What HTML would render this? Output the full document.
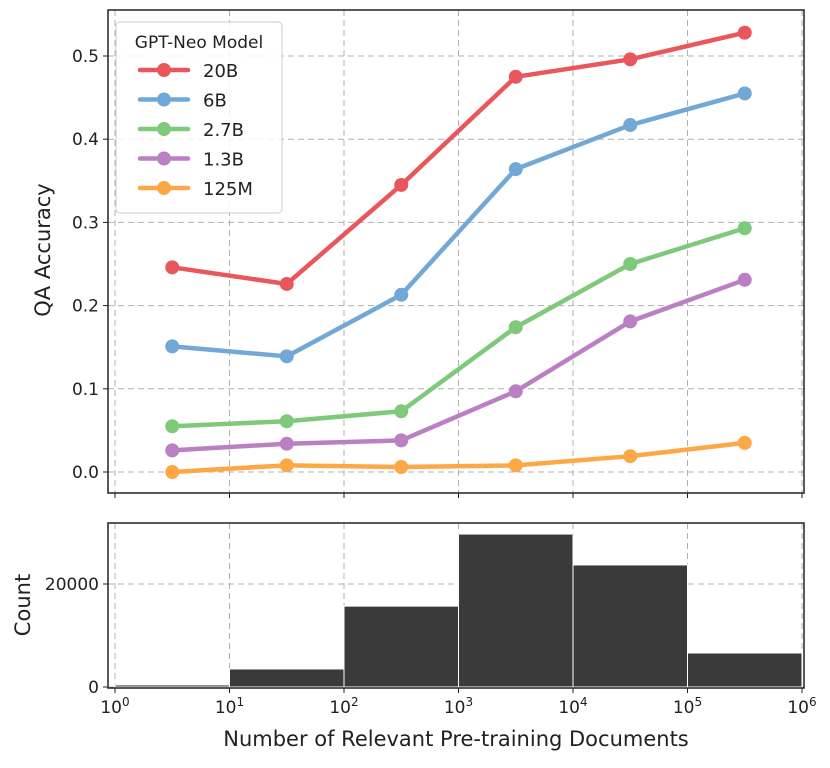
<!DOCTYPE html>
<html><head><meta charset="utf-8"><style>
body{margin:0;background:#fff;width:830px;height:763px;overflow:hidden}
svg text{font-family:"DejaVu Sans","Liberation Sans",sans-serif;fill:#222}
</style></head><body>
<svg id="c" width="830" height="763"></svg>
<script>
const xCenters=[0.5,1.5,2.5,3.5,4.5,5.5];
const seriesNames=["20B","6B","2.7B","1.3B","125M"];
const seriesColors=["#e8575b","#72a8d6","#7fc97a","#bb7fc4","#fda746"];
const acc20B=[0.246,0.226,0.345,0.475,0.496,0.528];
const acc6B=[0.151,0.139,0.213,0.364,0.417,0.455];
const acc27B=[0.055,0.061,0.073,0.174,0.250,0.293];
const acc13B=[0.026,0.034,0.038,0.097,0.181,0.231];
const acc125M=[0.000,0.008,0.006,0.008,0.019,0.035];
const binEdges=[0,1,2,3,4,5,6];
const binCounts=[400,3500,15700,29700,23700,6600];
const yTicks=[0.0,0.1,0.2,0.3,0.4,0.5];
const countTicks=[0,20000];
const xTicks=[0,1,2,3,4,5,6];

const NS="http://www.w3.org/2000/svg";
const svg=document.getElementById('c');
function el(t,a,p){const e=document.createElementNS(NS,t);for(const k in a)e.setAttribute(k,a[k]);(p||svg).appendChild(e);return e;}
const X=v=>115+v*114.5;
const Y=v=>472-v*832;
const YC=v=>687-v*0.00515;
const L=108,R=804;
for(const t of xTicks){const g=el('line',{x1:X(t),x2:X(t),y1:10,y2:493,stroke:'#b0b0b0','stroke-dasharray':'6,4','stroke-width':1});

const g2=el('line',{x1:X(t),x2:X(t),y1:523,y2:688,stroke:'#b0b0b0','stroke-dasharray':'6,4','stroke-width':1});
}
for(const t of yTicks){const g=el('line',{x1:L,x2:R,y1:Y(t),y2:Y(t),stroke:'#b0b0b0','stroke-dasharray':'6,4','stroke-width':1});

const tx=el('text',{x:L-9,y:Y(t)+6,'text-anchor':'end','font-size':17});tx.textContent=t.toFixed(1);

el('line',{x1:L-5,x2:L,y1:Y(t),y2:Y(t),stroke:'#222'});}
for(const t of countTicks){const g=el('line',{x1:L,x2:R,y1:YC(t),y2:YC(t),stroke:'#b0b0b0','stroke-dasharray':'6,4'});

const tx=el('text',{x:L-9,y:YC(t)+6,'text-anchor':'end','font-size':17});tx.textContent=t;

el('line',{x1:L-5,x2:L,y1:YC(t),y2:YC(t),stroke:'#222'});}
binCounts.forEach((c,i)=>{const b=el('rect',{x:X(binEdges[i]),y:YC(c),width:X(binEdges[i+1])-X(binEdges[i]),height:YC(0)-YC(c),fill:'#3a3a3a',stroke:'#fff','stroke-width':1});
});
const all=[acc20B,acc6B,acc27B,acc13B,acc125M];
all.forEach((s,k)=>{const g=el('g',{});
el('polyline',{points:s.map((v,i)=>X(xCenters[i])+','+Y(v)).join(' '),fill:'none',stroke:seriesColors[k],'stroke-width':4.5,'stroke-linejoin':'round'},g);
s.forEach((v,i)=>{const p=el('circle',{cx:X(xCenters[i]),cy:Y(v),r:7,fill:seriesColors[k]},g);});});
el('rect',{x:L,y:10,width:R-L,height:483,fill:'none',stroke:'#222','stroke-width':1.5});
el('rect',{x:L,y:523,width:R-L,height:165,fill:'none',stroke:'#222','stroke-width':1.5});
for(const t of xTicks){el('line',{x1:X(t),x2:X(t),y1:688,y2:693,stroke:'#222'});
const tx=el('text',{x:X(t),y:713,'text-anchor':'middle','font-size':17});tx.innerHTML='10<tspan dy="-7" font-size="12">'+t+'</tspan>';

el('line',{x1:X(t),x2:X(t),y1:493,y2:498,stroke:'#222'});}
const lg=el('g',{});
el('rect',{x:116,y:22,width:166,height:191,rx:4,fill:'#fff','fill-opacity':0.85,stroke:'#ccc'},lg);
const lt=el('text',{x:199,y:48,'text-anchor':'middle','font-size':17},lg);lt.textContent='GPT-Neo Model';
seriesNames.forEach((n,k)=>{const y=70+k*29.5;const e=el('g',{},lg);
el('line',{x1:140,x2:188,y1:y,y2:y,stroke:seriesColors[k],'stroke-width':4.5,'stroke-linecap':'round'},e);
el('circle',{cx:164,cy:y,r:7,fill:seriesColors[k]},e);
const t=el('text',{x:203,y:y+7,'font-size':18},e);t.textContent=n;});
const yt=el('text',{x:0,y:0,'font-size':21,'text-anchor':'middle',transform:'translate(50,250) rotate(-90)'});yt.textContent='QA Accuracy';
const ct=el('text',{x:0,y:0,'font-size':21,'text-anchor':'middle',transform:'translate(30,605) rotate(-90)'});ct.textContent='Count';
const xt=el('text',{x:456,y:746,'font-size':21,'text-anchor':'middle'});xt.textContent='Number of Relevant Pre-training Documents';
</script>
</body></html>
